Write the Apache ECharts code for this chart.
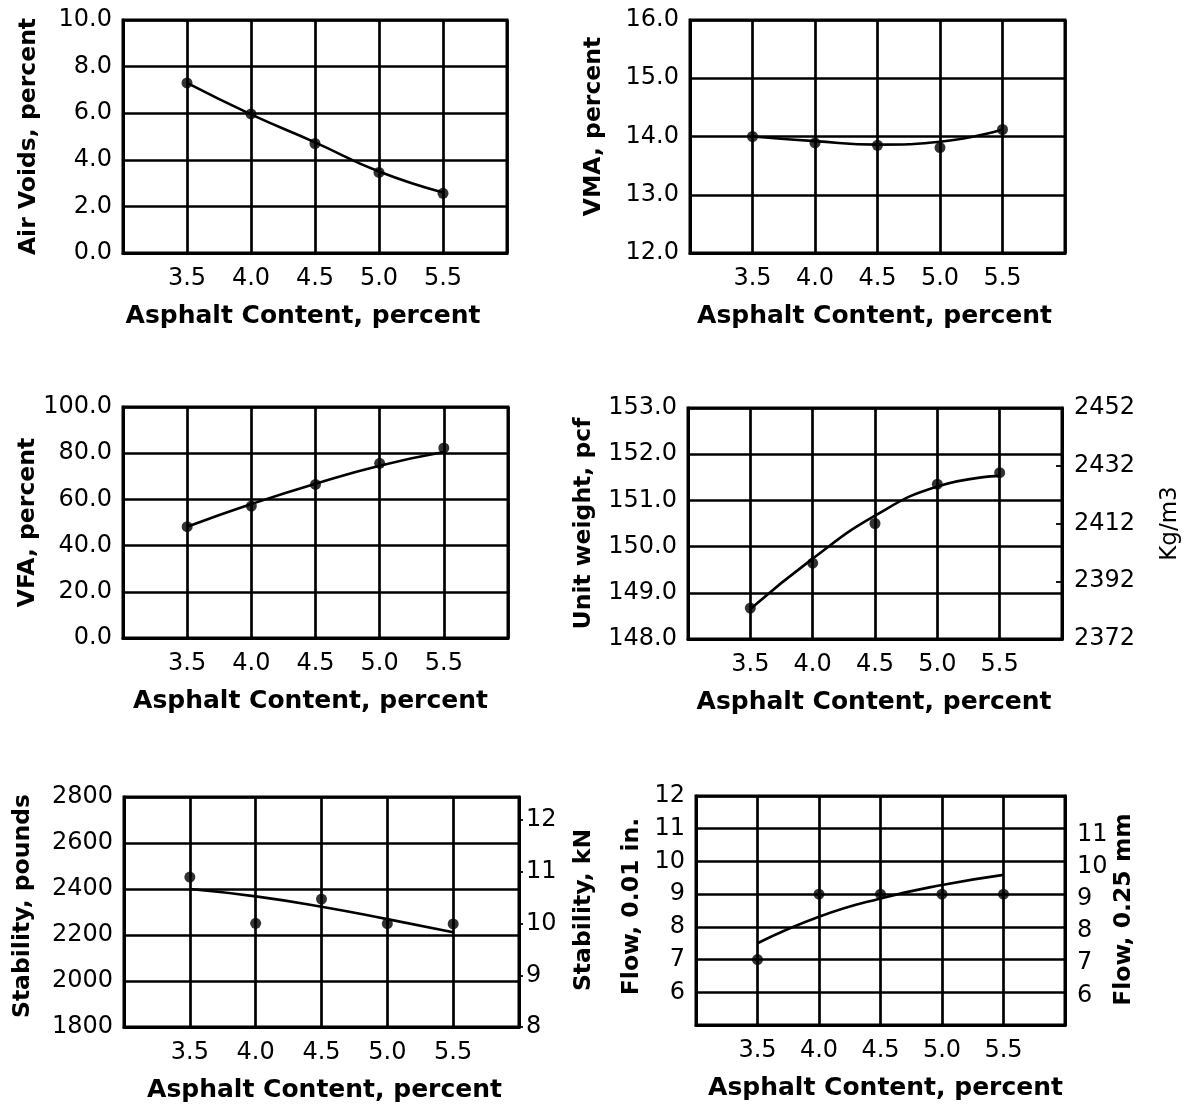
<!DOCTYPE html>
<html>
<head>
<meta charset="utf-8">
<title>Asphalt content curves</title>
<script src="https://cdn.jsdelivr.net/npm/echarts@6/dist/echarts.min.js"></script>
<style>
  html, body { margin: 0; padding: 0; background: #fff; }
  #chart { width: 1189px; height: 1105px; }
</style>
</head>
<body>
<div id="chart"></div>
<script>
// asphalt content, percent (x of every panel)
const asphalt = [3.5, 4.0, 4.5, 5.0, 5.5];

// test points
const airVoids = [7.3, 5.97, 4.7, 3.46, 2.56];
const vma = [14.0, 13.89, 13.85, 13.81, 14.12];
const vfa = [48.2, 57.1, 66.5, 75.6, 82.3];
const unitWeight = [148.67, 149.64, 150.5, 151.35, 151.6];
const stability = [2452, 2251, 2356, 2249, 2248];
const flow = [7, 9, 9, 9, 9];

// fitted curves, read at the same asphalt contents
const airVoidsFit = [7.3, 5.95, 4.75, 3.5, 2.6];
const vmaFit = [14.0, 13.92, 13.86, 13.91, 14.12];
const vfaFit = [48.2, 58.0, 66.8, 74.6, 80.5];
const unitWeightFit = [148.65, 149.74, 150.67, 151.3, 151.53];
const stabilityFit = [2400, 2368, 2323, 2269, 2212];
const flowFit = [7.5, 8.31, 8.87, 9.28, 9.59];

// tick labels
const airTicks = [0, 2, 4, 6, 8, 10];
const vmaTicks = [12, 13, 14, 15, 16];
const vfaTicks = [0, 20, 40, 60, 80, 100];
const pcfTicks = [148, 149, 150, 151, 152, 153];
const kgm3Ticks = [2372, 2392, 2412, 2432, 2452];
const poundTicks = [1800, 2000, 2200, 2400, 2600, 2800];
const kNTicks = [8, 9, 10, 11, 12];
const flowInTicks = [6, 7, 8, 9, 10, 11, 12];
const flowMmTicks = [6, 7, 8, 9, 10, 11];

const LB_TO_KN = 0.0044482;
const IN_TO_MM = 0.254 / 0.25;

const FONT = 'DejaVu Sans';
const BLACK = '#000';

const grids = [
  { left: 123, top: 20, width: 384, height: 233 },
  { left: 690, top: 20, width: 375, height: 233 },
  { left: 123, top: 407, width: 385, height: 231 },
  { left: 688, top: 408, width: 374, height: 231 },
  { left: 124, top: 797, width: 395, height: 230 },
  { left: 696, top: 796, width: 369, height: 229 }
].map(g => Object.assign(g, { show: true, borderColor: BLACK, borderWidth: 3, backgroundColor: 'transparent' }));

// shift of the x title from the plot centre, px
const titleShift = [-12, -3, -5, -1, 3, 5];

function pad(shift) {
  return shift < 0 ? [0, -2 * shift, 0, 0] : [0, 0, 0, 2 * shift];
}

const xAxis = grids.map((g, i) => ({
  gridIndex: i,
  type: 'value',
  min: 3, max: 6, interval: 0.5,
  axisLine: { show: true, lineStyle: { color: BLACK, width: 3 } },
  axisTick: { show: false },
  splitLine: { show: true, lineStyle: { color: BLACK, width: 2.7 } },
  axisLabel: {
    customValues: asphalt,
    formatter: v => v.toFixed(1),
    fontFamily: FONT, fontSize: 24, color: BLACK, margin: 14
  },
  name: 'Asphalt Content, percent',
  nameLocation: 'middle',
  nameGap: 51,
  nameTextStyle: {
    fontFamily: FONT, fontWeight: 'bold', fontSize: 25, color: BLACK,
    padding: pad(titleShift[i])
  }
}));

function leftAxis(i, name, min, max, interval, ticks, fmt, gap, up) {
  return {
    gridIndex: i,
    type: 'value',
    position: 'left',
    min, max, interval,
    axisLine: { show: true, lineStyle: { color: BLACK, width: 3 } },
    axisTick: { show: false },
    splitLine: { show: true, lineStyle: { color: BLACK, width: 2.7 } },
    axisLabel: {
      customValues: ticks,
      formatter: fmt,
      fontFamily: FONT, fontSize: 24, color: BLACK, margin: 11
    },
    name,
    nameLocation: 'middle',
    nameRotate: 90,
    nameGap: gap,
    nameTextStyle: {
      fontFamily: FONT, fontWeight: 'bold', fontSize: 23.5, color: BLACK,
      padding: [0, 0, 0, 2 * (up || 0)]
    }
  };
}

function rightAxis(i, name, min, max, ticks, gap, opts) {
  return {
    gridIndex: i,
    type: 'value',
    position: 'right',
    min, max,
    axisLine: { show: true, lineStyle: { color: BLACK, width: 3 } },
    axisTick: {
      show: opts.tick !== 0,
      customValues: ticks,
      inside: !!opts.inside,
      length: Math.abs(opts.tick || 0),
      lineStyle: { color: BLACK, width: 1.8 }
    },
    splitLine: { show: false },
    axisLabel: {
      customValues: ticks,
      formatter: v => String(v),
      fontFamily: FONT, fontSize: 24, color: BLACK, margin: opts.margin
    },
    name,
    nameLocation: 'middle',
    nameRotate: 90,
    nameGap: gap,
    nameTextStyle: {
      fontFamily: FONT, fontWeight: opts.weight, fontSize: opts.size, color: BLACK,
      padding: [0, 0, 0, 2 * (opts.up || 0)]
    }
  };
}

const one = v => v.toFixed(1);
const plain = v => String(v);

const yAxis = [
  leftAxis(0, 'Air Voids, percent', 0, 10, 2, airTicks, one, 82),
  leftAxis(1, 'VMA, percent', 12, 16, 1, vmaTicks, one, 84, 10),
  leftAxis(2, 'VFA, percent', 0, 100, 20, vfaTicks, one, 82),
  leftAxis(3, 'Unit weight, pcf', 148, 153, 1, pcfTicks, one, 92),
  leftAxis(4, 'Stability, pounds', 1800, 2800, 200, poundTicks, plain, 89, 6),
  leftAxis(5, 'Flow, 0.01 in.', 5, 12, 1, flowInTicks, plain, 52, 4),
  rightAxis(3, 'Kg/m3', 2372, 2452, kgm3Ticks, 97,
    { tick: 6, inside: true, margin: 12, weight: 'normal', size: 23 }),
  rightAxis(4, 'Stability, kN', 8, 8 + 1000 * LB_TO_KN, kNTicks, 53,
    { tick: 4, inside: false, margin: 7, weight: 'bold', size: 23.5, up: 2 }),
  rightAxis(5, 'Flow, 0.25 mm', 5 * IN_TO_MM, 12 * IN_TO_MM, flowMmTicks, 45,
    { tick: 0, margin: 12, weight: 'bold', size: 23.5, up: 1 })
];

const pointSets = [airVoids, vma, vfa, unitWeight, stability, flow];
const fitSets = [airVoidsFit, vmaFit, vfaFit, unitWeightFit, stabilityFit, flowFit];

const series = [];
pointSets.forEach((vals, i) => {
  series.push({
    type: 'line',
    xAxisIndex: i, yAxisIndex: i,
    data: asphalt.map((x, k) => [x, fitSets[i][k]]),
    smooth: true,
    symbol: 'none',
    lineStyle: { color: BLACK, width: 2.6 },
    z: 3
  });
  series.push({
    type: 'scatter',
    xAxisIndex: i, yAxisIndex: i,
    data: asphalt.map((x, k) => [x, vals[k]]),
    symbol: 'circle',
    symbolSize: 11,
    itemStyle: { color: BLACK },
    z: 4
  });
});

const chart = echarts.init(document.getElementById('chart'), null, { renderer: 'canvas' });
chart.setOption({
  animation: false,
  backgroundColor: '#fff',
  grid: grids,
  xAxis,
  yAxis,
  series
});
</script>
</body>
</html>
